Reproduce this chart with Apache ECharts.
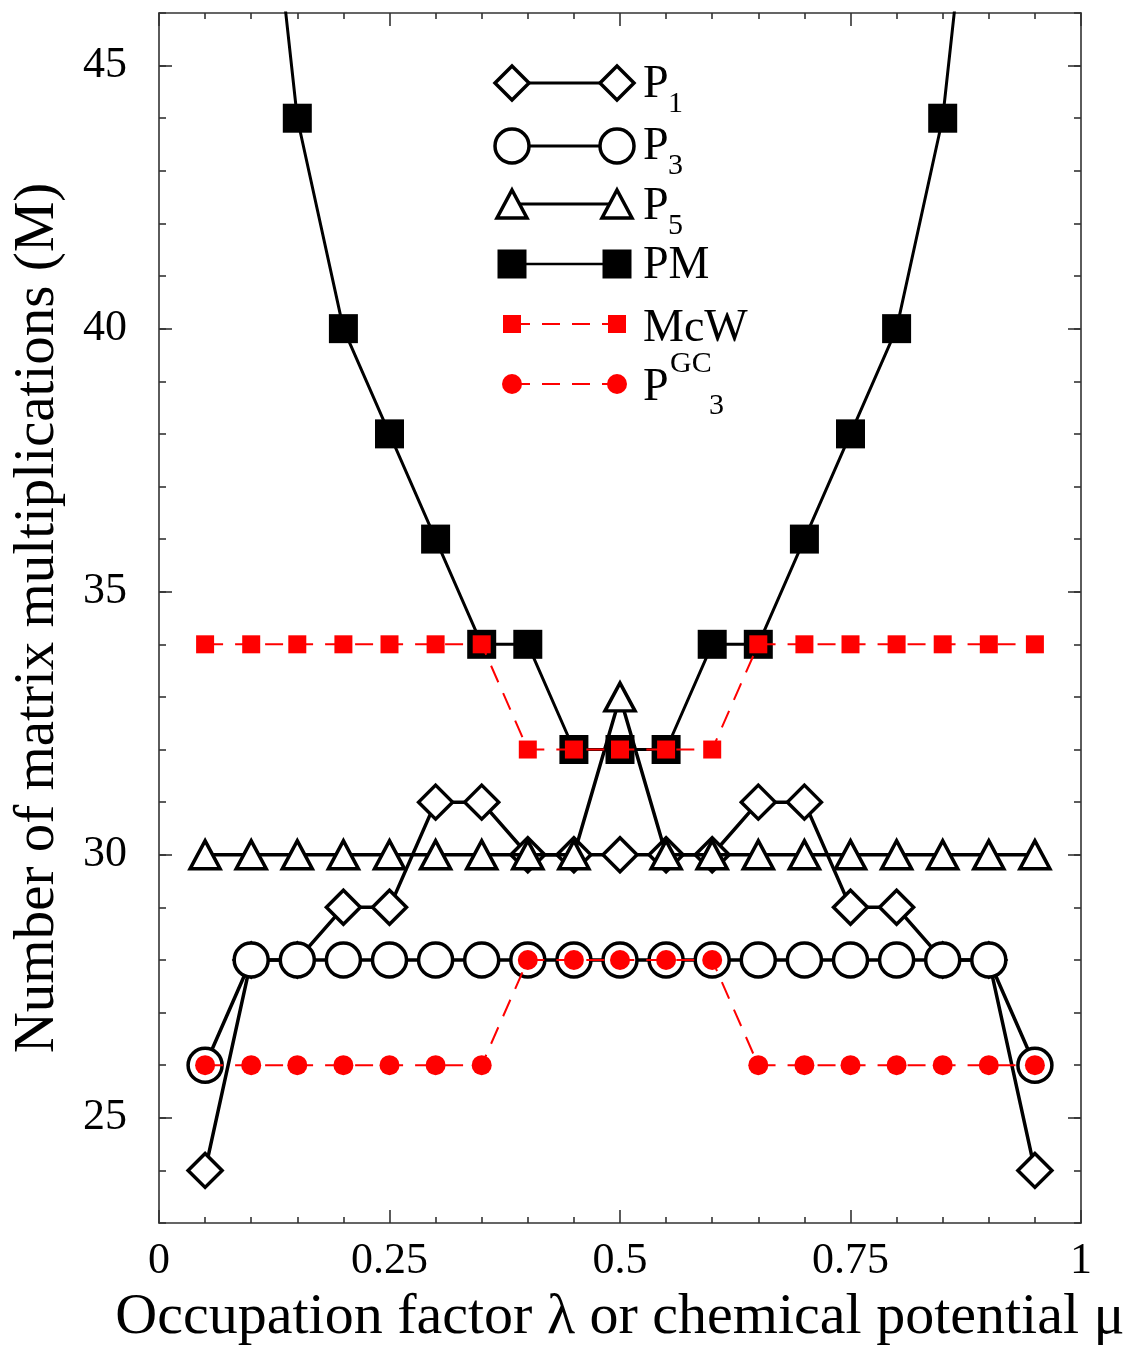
<!DOCTYPE html>
<html>
<head>
<meta charset="utf-8">
<script src="https://cdn.jsdelivr.net/npm/echarts@6/dist/echarts.min.js"></script>
<style>
html,body{margin:0;padding:0;background:#fff;}
#chart{width:1132px;height:1353px;}
</style>
</head>
<body>
<div id="chart"></div>
<script>
// ---- data ----
const xs   = [0.05,0.10,0.15,0.20,0.25,0.30,0.35,0.40,0.45,0.50,0.55,0.60,0.65,0.70,0.75,0.80,0.85,0.90,0.95];
const p1   = [24,28,28,29,29,31,31,30,30,30,30,30,31,31,29,29,28,28,24];
const p3   = [26,28,28,28,28,28,28,28,28,28,28,28,28,28,28,28,28,28,26];
const p5   = [30,30,30,30,30,30,30,30,30,33,30,30,30,30,30,30,30,30,30];
const pm   = [null,52,44,40,38,36,34,34,32,32,32,34,34,36,38,40,44,52,null];
const mcw  = [34,34,34,34,34,34,34,32,32,32,32,32,34,34,34,34,34,34,34];
const p3gc = [26,26,26,26,26,26,26,28,28,28,28,28,26,26,26,26,26,26,26];
const xTickLabels = [0,0.25,0.5,0.75,1];
const yTickLabels = [25,30,35,40,45];

const FONT = "Liberation Serif";
const AX = '#333';
const RICH = {t:{fontFamily:FONT, fontSize:44, color:'#000'}};

function pairs(ys){ return xs.map((x,i)=>[x, ys[i]]); }

const chart = echarts.init(document.getElementById('chart'), null, {renderer:'canvas'});

function xAx(pos, showLabel){
  return {
    type:'value', min:0, max:1, interval:0.25, position:pos,
    axisLine:{show:true, onZero:false, lineStyle:{color:AX, width:1.6}},
    axisTick:{show:true, inside:true, length:13, lineStyle:{color:AX, width:1.6}},
    minorTick:{show:true, splitNumber:5, length:6, lineStyle:{color:AX, width:1.6}},
    splitLine:{show:false}, minorSplitLine:{show:false},
    axisLabel:{show:showLabel, margin:16, fontFamily:FONT, fontSize:44, color:'#000', rich:RICH,
      formatter:(v)=> '{t|' + (v===0?'0':v===1?'1':String(v)) + '}'},
    name: showLabel ? 'Occupation factor λ or chemical potential μ' : '',
    nameLocation:'middle', nameGap:66,
    nameTextStyle:{fontFamily:FONT, fontSize:58, color:'#000'}
  };
}
function yAx(pos, major, showLabel, nameOn){
  return {
    type:'value', min:23, max:46, interval:1, position:pos, offset:0,
    axisLine:{show:!major, onZero:false, lineStyle:{color:AX, width:1.6}},
    axisTick: major ? {show:true, inside:true, length:13, customValues:yTickLabels, lineStyle:{color:AX, width:1.6}}
                    : {show:true, inside:true, length:7, lineStyle:{color:AX, width:1.6}},
    splitLine:{show:false},
    axisLabel: showLabel ? {show:true, margin:32, fontFamily:FONT, fontSize:44, color:'#000', customValues:yTickLabels,
                            rich:RICH, formatter:(v)=>'{t|' + v + '}'}
                         : {show:false},
    name: nameOn ? 'Number of matrix multiplications (M)' : '',
    nameLocation:'middle', nameGap:92,
    nameTextStyle:{fontFamily:FONT, fontSize:57, color:'#000'}
  };
}

// legend drawn as graphic elements
const LX1 = 512, LX2 = 617, TX = 643;
const g = [];
function lline(y, color, w, dash){
  g.push({type:'line', shape:{x1:LX1, y1:y, x2:LX2, y2:y}, style:{stroke:color, lineWidth:w, lineDash:dash||null}, z:100});
}
function diamond(x,y){ g.push({type:'polygon', shape:{points:[[x,y-17],[x+17,y],[x,y+17],[x-17,y]]}, style:{fill:'#fff', stroke:'#000', lineWidth:3.5}, z:101}); }
function circ(x,y,r,fill,stroke,lw){ g.push({type:'circle', shape:{cx:x,cy:y,r:r}, style:{fill:fill, stroke:stroke, lineWidth:lw}, z:101}); }
function tri(x,y){ g.push({type:'polygon', shape:{points:[[x,y-14],[x+15,y+14],[x-15,y+14]]}, style:{fill:'#fff', stroke:'#000', lineWidth:3.5}, z:101}); }
function sq(x,y,s,fill){ g.push({type:'rect', shape:{x:x-s/2,y:y-s/2,width:s,height:s}, style:{fill:fill}, z:101}); }
function txt(x,y,t,size){ g.push({type:'text', x:x, y:y, style:{text:t, font:size+'px "'+FONT+'"', fill:'#000', verticalAlign:'middle', align:'left'}, z:101}); }

lline(83,'#000',3); diamond(LX1,83); diamond(LX2,83);
txt(TX,85,'P',46); txt(TX+25,104,'1',30);
lline(146,'#000',3); circ(LX1,146,17,'#fff','#000',3.5); circ(LX2,146,17,'#fff','#000',3.5);
txt(TX,147,'P',46); txt(TX+25,166,'3',30);
lline(204,'#000',3); tri(LX1,204); tri(LX2,204);
txt(TX,207,'P',46); txt(TX+25,226,'5',30);
lline(264,'#000',2.5); sq(LX1,264,29,'#000'); sq(LX2,264,29,'#000');
txt(TX,266,'PM',46);
lline(324,'#ff0000',2,[18,12]); sq(LX1,324,18,'#ff0000'); sq(LX2,324,18,'#ff0000');
txt(TX,329,'McW',46);
lline(384,'#ff0000',2,[18,12]); circ(LX1,384,10,'#ff0000',null,0); circ(LX2,384,10,'#ff0000',null,0);
txt(TX,388,'P',46); txt(TX+27,364,'GC',30); txt(TX+66,406,'3',30);

const option = {
  animation:false,
  backgroundColor:'#fff',
  textStyle:{fontFamily:FONT},
  grid:{left:159, right:51, top:13, bottom:130, containLabel:false, outerBoundsMode:'none'},
  xAxis:[xAx('bottom',true), xAx('top',false)],
  yAxis:[yAx('left',false,true,true), yAx('left',true,false,false), yAx('right',false,false,false), yAx('right',true,false,false)],
  graphic:g,
  series:[
    {name:'P1', type:'line', data:pairs(p1), z:2, symbol:'diamond', symbolSize:34,
      lineStyle:{color:'#000', width:3.5}, itemStyle:{color:'#fff', borderColor:'#000', borderWidth:3.5}},
    {name:'P3', type:'line', data:pairs(p3), z:3, symbol:'circle', symbolSize:34,
      lineStyle:{color:'#000', width:3.5}, itemStyle:{color:'#fff', borderColor:'#000', borderWidth:3.5}},
    {name:'P5', type:'line', data:pairs(p5), z:4, symbol:'triangle', symbolSize:[30,28],
      lineStyle:{color:'#000', width:3.5}, itemStyle:{color:'#fff', borderColor:'#000', borderWidth:3.5}},
    {name:'PM', type:'line', data:pairs(pm), z:5, symbol:'rect', symbolSize:29, connectNulls:false,
      lineStyle:{color:'#000', width:3}, itemStyle:{color:'#000'}},
    {name:'McW', type:'line', data:pairs(mcw), z:6, symbol:'rect', symbolSize:18,
      lineStyle:{color:'#ff0000', width:2, type:[18,12]}, itemStyle:{color:'#ff0000'}},
    {name:'P3GC', type:'line', data:pairs(p3gc), z:7, symbol:'circle', symbolSize:20,
      lineStyle:{color:'#ff0000', width:2, type:[18,12]}, itemStyle:{color:'#ff0000'}}
  ]
};
option.series.forEach(s=>{ s.showAllSymbol = true; s.clip = true; s.silent = true; });
chart.setOption(option);
</script>
</body>
</html>
